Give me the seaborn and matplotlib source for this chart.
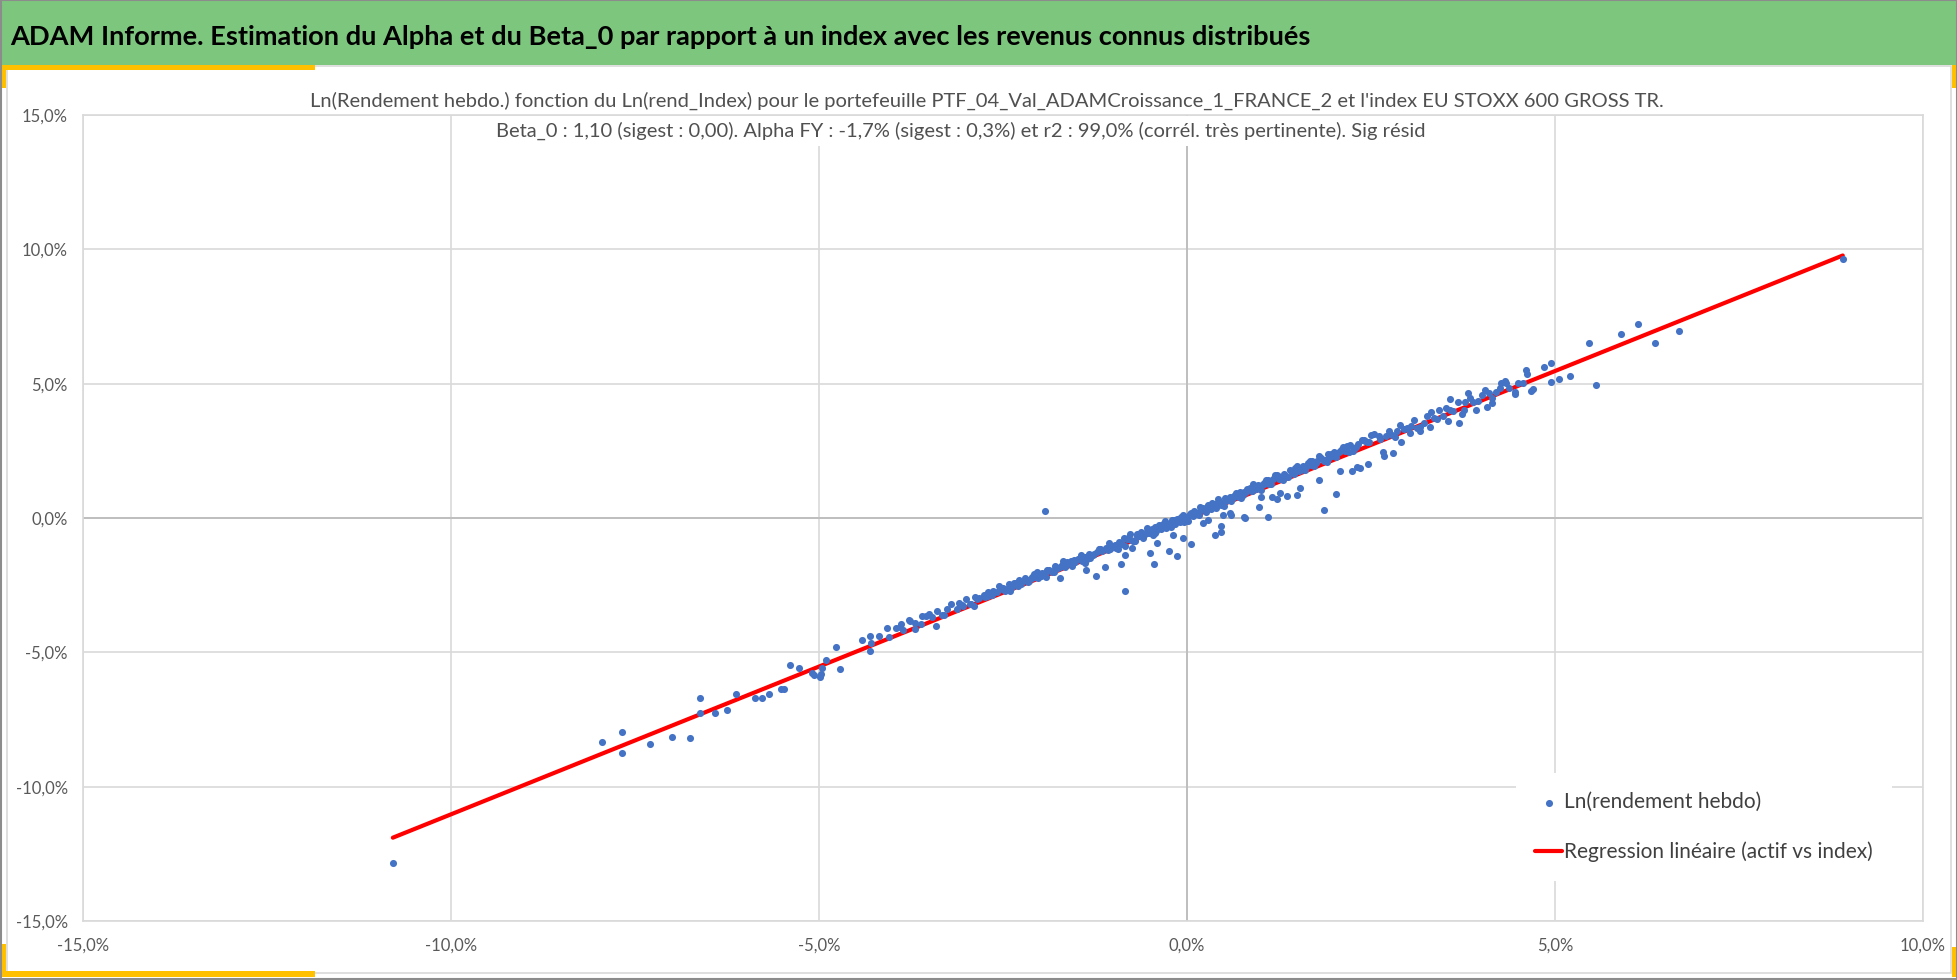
import matplotlib
matplotlib.use("Agg")
import matplotlib.pyplot as plt
from matplotlib.patches import Rectangle
from matplotlib.ticker import FuncFormatter, MultipleLocator
import numpy as np
import pandas as pd
import seaborn as sns

# ------------------------------------------------------
# Data (weekly log-returns, in %)
# ------------------------------------------------------
# dense band of points around the fit
idx_band_a = [-4.42, -4.30, -4.18, -4.05, -3.95, -3.86, -3.78, -3.70, -3.62, -3.55,
              -3.47, -3.40, -3.33, -3.26, -3.20, -3.13, -3.06, -3.00, -2.94, -2.88,
              -2.82, -2.76, -2.70, -2.64, -2.58]
ptf_band_a = [-4.54, -4.66, -4.38, -4.44, -4.08, -4.16, -3.81, -3.90, -3.96, -3.66,
              -3.70, -3.45, -3.61, -3.40, -3.20, -3.37, -3.22, -3.03, -3.21, -2.95,
              -2.98, -2.87, -2.92, -2.71, -2.75]

idx_band_b = [-2.52, -2.47, -2.42, -2.38, -2.33, -2.29, -2.24, -2.20, -2.15, -2.11,
              -2.06, -2.02, -1.97, -1.93, -1.88, -1.84, -1.79, -1.75, -1.70, -1.66,
              -1.61, -1.57, -1.52, -1.48, -1.43, -1.38, -1.33, -1.28, -1.22, -1.16,
              -1.10, -1.05]
ptf_band_b = [-2.65, -2.70, -2.47, -2.55, -2.41, -2.53, -2.37, -2.25, -2.34, -2.19,
              -2.20, -2.25, -2.06, -2.07, -1.92, -2.01, -1.88, -1.87, -1.75, -1.83,
              -1.69, -1.59, -1.64, -1.53, -1.59, -1.45, -1.34, -1.39, -1.25, -1.23,
              -1.10, -1.16]

idx_band_c = [-1.00, -0.96, -0.92, -0.88, -0.84, -0.80, -0.76, -0.72, -0.68, -0.64,
              -0.60, -0.56, -0.52, -0.48, -0.44, -0.40, -0.36, -0.32, -0.28, -0.24,
              -0.20, -0.16, -0.12, -0.08, -0.04, 0.00, 0.04, 0.08, 0.12, 0.16,
              0.20, 0.24, 0.28, 0.32, 0.36, 0.40, 0.44, 0.48, 0.52, 0.56,
              0.60, 0.64, 0.68, 0.72, 0.76, 0.80, 0.84, 0.88, 0.92, 0.96]
ptf_band_c = [-1.03, -1.13, -0.89, -0.98, -1.03, -0.79, -0.82, -0.84, -0.60, -0.66,
              -0.75, -0.54, -0.57, -0.40, -0.56, -0.38, -0.42, -0.24, -0.37, -0.21,
              -0.08, -0.22, -0.10, 0.00, -0.14, 0.01, 0.16, 0.06, 0.20, 0.11,
              0.32, 0.29, 0.47, 0.34, 0.46, 0.39, 0.59, 0.55, 0.74, 0.67,
              0.64, 0.83, 0.82, 0.98, 0.85, 0.97, 1.07, 1.01, 1.13, 1.24]

idx_band_d = [1.02, 1.07, 1.12, 1.17, 1.22, 1.27, 1.32, 1.37, 1.42, 1.47,
              1.52, 1.57, 1.62, 1.67, 1.72, 1.77, 1.82, 1.87, 1.92, 1.97,
              2.03, 2.09, 2.15, 2.21, 2.27, 2.33, 2.40, 2.47, 2.54, 2.61]
ptf_band_d = [1.24, 1.40, 1.28, 1.46, 1.61, 1.49, 1.64, 1.53, 1.71, 1.87,
              1.74, 1.94, 1.90, 2.13, 1.92, 2.12, 2.23, 2.15, 2.38, 2.32,
              2.28, 2.52, 2.48, 2.73, 2.57, 2.75, 2.89, 2.84, 3.11, 3.04]

idx_band_e = [2.70, 2.78, 2.86, 2.95, 3.05, 3.12, 3.22, 3.35, 3.48, 3.62, 3.88, 4.20, 4.38]
ptf_band_e = [3.05, 3.10, 3.22, 3.30, 3.42, 3.35, 3.55, 3.72, 3.80, 3.98, 4.30, 4.68, 4.85]

idx_band_f = [-2.45, -2.35, -2.25, -2.17, -2.08, -1.99, -1.90, -1.81, -1.72, -1.63,
              -1.54, -1.45, -1.36, -1.26, -1.18, -1.08, -0.98, -0.90, -0.82, -0.74,
              -0.66, -0.58, -0.50, -0.42, -0.34, -0.26, -0.18, -0.10, -0.02, 0.06,
              0.14, 0.22, 0.30, 0.38, 0.46, 0.54, 0.62, 0.70, 0.78, 0.86,
              0.94, 1.04, 1.14, 1.24, 1.34, 1.44, 1.55, 1.65, 1.75, 1.86,
              1.96, 2.07, 2.18, 2.30, 2.42]
ptf_band_f = [-2.65, -2.42, -2.47, -2.29, -2.10, -2.16, -1.95, -2.01, -1.81, -1.63,
              -1.65, -1.49, -1.53, -1.33, -1.15, -1.19, -0.99, -0.96, -0.77, -0.84,
              -0.66, -0.62, -0.44, -0.47, -0.29, -0.25, -0.08, -0.16, 0.04, 0.17,
              0.15, 0.39, 0.36, 0.51, 0.48, 0.72, 0.74, 0.78, 0.97, 1.12,
              1.08, 1.28, 1.27, 1.57, 1.56, 1.75, 1.77, 2.05, 2.06, 2.12,
              2.40, 2.44, 2.67, 2.64, 2.87]

idx_band_g = [-3.90, -3.70, -3.50, -3.30, -3.10, -2.90, -2.70, -2.55, -2.40, -2.28,
              -2.16, -2.04, -1.92, -1.80, -1.68, -1.56, -1.44, -1.32, -1.20, -1.06,
              -0.94, -0.86, -0.78, -0.70, -0.62, -0.54, -0.46, -0.38, -0.30, -0.22,
              -0.14, -0.06, 0.02, 0.10, 0.18, 0.26, 0.34, 0.42, 0.50, 0.58,
              0.66, 0.74, 0.82, 0.90, 1.00, 1.10, 1.20, 1.30, 1.40, 1.50,
              1.60, 1.70, 1.80, 1.90, 2.00, 2.12, 2.25, 2.38, 2.50, 2.62]
ptf_band_g = [-4.04, -4.12, -3.58, -3.61, -3.18, -3.26, -2.76, -2.54, -2.73, -2.29,
              -2.39, -2.00, -2.19, -1.79, -1.60, -1.78, -1.36, -1.48, -1.15, -0.94,
              -1.14, -0.76, -0.61, -0.85, -0.53, -0.38, -0.63, -0.25, -0.10, -0.33,
              -0.02, 0.13, -0.11, 0.27, 0.42, 0.22, 0.55, 0.70, 0.45, 0.78,
              0.94, 0.75, 1.09, 1.25, 1.05, 1.43, 1.60, 1.40, 1.78, 1.95,
              1.77, 2.14, 2.30, 2.08, 2.45, 2.66, 2.51, 2.91, 3.10, 2.95]

idx_band_h = [2.74, 2.82, 2.90, 2.99, 3.08, 3.16, 3.26, 3.31, 3.40, 3.52,
              3.58, 3.68, 3.76, 3.85, 3.95, 4.05, 4.14, 4.25, 4.32, 4.50, 4.62]
ptf_band_h = [3.23, 3.02, 3.46, 3.36, 3.64, 3.37, 3.78, 3.96, 3.69, 4.10,
              4.03, 4.32, 4.01, 4.45, 4.37, 4.75, 4.46, 4.85, 5.10, 5.02, 5.35]

idx_band_i = [-3.05, -2.95, -2.85, -2.75, -2.65, -2.50, -2.40, -2.30, -2.20, -2.10,
              -2.00, -1.90, -1.78, -1.66, -1.54, -1.42, -1.30, -1.18, -1.04, -0.92,
              -0.80, -0.68, -0.56, -0.44, -0.32, -0.20, -0.08, 0.04, 0.16, 0.28,
              0.40, 0.52, 0.64, 0.76, 0.88, 1.05, 1.25, 1.45, 1.68, 1.92,
              2.20, 2.45]
ptf_band_i = [-3.27, -3.20, -3.01, -2.94, -2.87, -2.62, -2.55, -2.48, -2.29, -2.22,
              -2.15, -1.96, -1.87, -1.78, -1.56, -1.47, -1.38, -1.17, -1.05, -0.96,
              -0.75, -0.66, -0.57, -0.35, -0.26, -0.17, 0.04, 0.13, 0.23, 0.44,
              0.53, 0.62, 0.83, 0.93, 1.02, 1.29, 1.47, 1.65, 1.98, 2.20,
              2.47, 2.83]

# points read one by one (tails and outliers)
idx_tail = [-10.79, -7.95, -7.67, -7.67, -7.30, -7.00, -6.75, -6.62, -6.62, -6.41,
            -6.25, -6.13, -5.87, -5.77, -5.68, -5.51, -5.47, -5.40, -5.27, -5.09,
            -5.07, -4.98, -4.97, -4.96, -4.91, -4.77, -4.72, -4.31, -4.31, -4.08,
            -3.88, -3.77, -3.60, -3.41, -1.93, -1.73, -1.39, -1.37, -1.23, -1.11,
            -0.89, -0.84, -0.84, -0.75, -0.50, -0.45, -0.41, -0.24, -0.19, -0.14,
            -0.06, 0.05, 0.22, 0.29, 0.38, 0.46, 0.46, 0.49, 0.59, 0.60,
            0.77, 0.79, 0.98, 1.01, 1.10, 1.15, 1.22, 1.26, 1.36, 1.49,
            1.53, 1.79, 1.86, 2.02, 2.08, 2.24, 2.31, 2.35, 2.46, 2.66,
            2.67, 2.80, 2.91, 3.03, 3.17, 3.30, 3.43, 3.55, 3.57, 3.70,
            3.73, 3.78, 3.82, 3.92, 4.01, 4.08, 4.11, 4.15, 4.27, 4.34,
            4.45, 4.45, 4.57, 4.61, 4.68, 4.70, 4.85, 4.95, 4.95, 5.06,
            5.21, 5.46, 5.56, 5.89, 6.13, 6.36, 6.68, 8.91]
ptf_tail = [-12.83, -8.34, -7.95, -8.76, -8.42, -8.15, -8.19, -6.69, -7.26, -7.25,
            -7.16, -6.55, -6.69, -6.69, -6.55, -6.36, -6.36, -5.47, -5.57, -5.78,
            -5.84, -5.93, -5.80, -5.60, -5.27, -4.81, -5.62, -4.38, -4.96, -4.08,
            -3.96, -3.82, -3.65, -4.01, 0.25, -2.24, -1.69, -1.94, -2.15, -1.81,
            -1.72, -2.71, -1.38, -1.13, -1.29, -1.72, -0.92, -1.22, -0.63, -1.40,
            -0.76, -0.97, -0.17, -0.07, -0.63, -0.51, -0.30, 0.11, 0.17, 0.11,
            0.05, -0.01, 0.42, 0.79, 0.03, 0.79, 0.69, 0.92, 0.82, 0.86,
            1.10, 1.41, 0.30, 0.90, 1.75, 1.75, 1.90, 1.85, 2.00, 2.46,
            2.31, 2.41, 2.82, 3.15, 3.25, 3.38, 4.02, 3.62, 4.43, 3.52,
            3.87, 4.33, 4.66, 4.02, 4.58, 4.12, 4.66, 4.27, 5.04, 5.04,
            4.60, 4.70, 5.04, 5.50, 4.74, 4.79, 5.63, 5.77, 5.07, 5.16,
            5.30, 6.52, 4.94, 6.85, 7.22, 6.52, 6.95, 9.63]

# regression (weekly): slope and intercept in %
beta_0 = 1.10
alpha_w = -0.03

title = "ADAM Informe. Estimation du Alpha et du Beta_0 par rapport à un index avec les revenus connus distribués"
sub1 = "Ln(Rendement hebdo.) fonction du Ln(rend_Index) pour le portefeuille PTF_04_Val_ADAMCroissance_1_FRANCE_2 et l'index EU STOXX 600 GROSS TR."
sub2 = "Beta_0 : 1,10 (sigest : 0,00). Alpha FY : -1,7% (sigest : 0,3%) et r2 : 99,0% (corrél. très pertinente). Sig résid"

df = pd.DataFrame({
    "idx": idx_band_a + idx_band_b + idx_band_c + idx_band_d + idx_band_e
           + idx_band_f + idx_band_g + idx_band_h + idx_band_i + idx_tail,
    "ptf": ptf_band_a + ptf_band_b + ptf_band_c + ptf_band_d + ptf_band_e
           + ptf_band_f + ptf_band_g + ptf_band_h + ptf_band_i + ptf_tail,
})
x_fit = np.array([df.idx.min(), df.idx.max()])
fit = pd.DataFrame({"idx": x_fit, "ptf": beta_0 * x_fit + alpha_w})

# ------------------------------------------------------
# Figure
# ------------------------------------------------------
sns.set_theme(style="white")
plt.rcParams["font.family"] = ["Lato", "DejaVu Sans"]

W, H = 1958, 980
fig = plt.figure(figsize=(W / 100, H / 100), dpi=100)
fig.patch.set_facecolor("white")


def px_rect(x0, y0, x1, y1, **kw):
    # rectangle given in pixels from the top-left corner
    fig.add_artist(Rectangle((x0 / W, 1 - y1 / H), (x1 - x0) / W, (y1 - y0) / H,
                             transform=fig.transFigure, **kw))


# banner, frame and yellow corners
px_rect(0, 0, W, 65, facecolor="#7DC67E", edgecolor="none")
px_rect(7, 66, 1951, 973, facecolor="none", edgecolor="#D9D9D9", lw=1.2)
yellow = "#FFC000"
px_rect(0, 65, 315, 70, facecolor=yellow, edgecolor="none")
px_rect(0, 65, 6, 88, facecolor=yellow, edgecolor="none")
px_rect(0, 971, 315, 977, facecolor=yellow, edgecolor="none")
px_rect(0, 944, 6, 977, facecolor=yellow, edgecolor="none")
px_rect(1952, 65, 1958, 88, facecolor=yellow, edgecolor="none")
px_rect(1952, 947, 1958, 977, facecolor=yellow, edgecolor="none")
px_rect(0.5, 0.5, W - 1, H - 1, facecolor="none", edgecolor="#8C8C8C", lw=1.5)

fig.text(10 / W, 1 - 37 / H, title, ha="left", va="center",
         fontsize=19.6, fontweight="bold", color="black")

ax = fig.add_axes([83 / W, 1 - 921 / H, (1923 - 83) / W, (921 - 115) / H])
ax.set_facecolor("white")

sns.lineplot(data=fit, x="idx", y="ptf", ax=ax, color="#FF0000", lw=3.0,
             label="Regression linéaire (actif vs index)", zorder=3)
sns.scatterplot(data=df, x="idx", y="ptf", ax=ax, color="#4472C4", s=26,
                linewidth=0, label="Ln(rendement hebdo)", zorder=4)

ax.set_xlim(-15, 10)
ax.set_ylim(-15, 15)
ax.xaxis.set_major_locator(MultipleLocator(5))
ax.yaxis.set_major_locator(MultipleLocator(5))
fmt = FuncFormatter(lambda v, _: f"{v:.1f}%".replace(".", ","))
ax.xaxis.set_major_formatter(fmt)
ax.yaxis.set_major_formatter(fmt)
ax.grid(True, color="#D9D9D9", lw=1.2)
ax.set_axisbelow(True)
ax.axhline(0, color="#BFBFBF", lw=1.4, zorder=1)
ax.axvline(0, color="#BFBFBF", lw=1.4, zorder=1)
for s in ax.spines.values():
    s.set_color("#D9D9D9")
    s.set_linewidth(1.2)
ax.tick_params(axis="x", length=0, pad=12, labelsize=12, labelcolor="#595959")
ax.tick_params(axis="y", length=0, pad=11, labelsize=12, labelcolor="#595959")
ax.set_xlabel("")
ax.set_ylabel("")

handles, labels = ax.get_legend_handles_labels()
order = [1, 0]
leg = ax.legend([handles[i] for i in order], [labels[i] for i in order],
                loc="upper left", bbox_to_anchor=(1506 / W, 1 - 763 / H),
                bbox_transform=fig.transFigure, frameon=True, facecolor="white",
                edgecolor="none", fancybox=False, framealpha=1, fontsize=15,
                borderpad=0.9, labelspacing=1.42, handlelength=1.3,
                handletextpad=0.1, markerscale=1.0)
for t in leg.get_texts():
    t.set_color("#404040")

fig.text(987 / W, 1 - 101 / H, sub1, ha="center", va="center", fontsize=14.5,
         color="#505050")
fig.text(961 / W, 1 - 131 / H, sub2, ha="center", va="center", fontsize=14.5,
         color="#505050",
         bbox=dict(facecolor="white", edgecolor="none", pad=4))

fig.savefig("out.png", dpi=100)
